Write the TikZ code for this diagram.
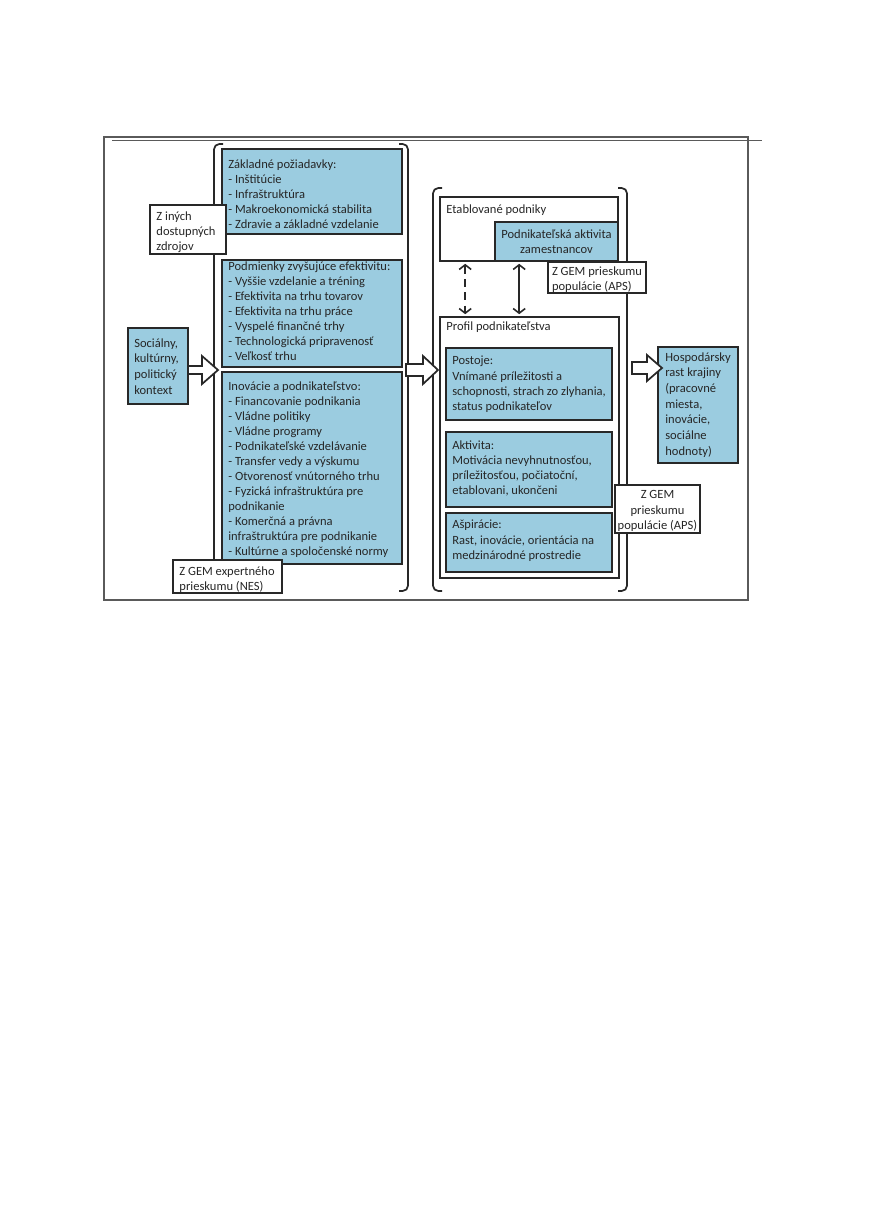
\documentclass[tikz,border=0pt]{standalone}
\usepackage{fontspec}
\setmainfont{Carlito}
\usetikzlibrary{fit,calc,arrows.meta}
\definecolor{boxblue}{RGB}{155,204,224}
\definecolor{edge}{RGB}{40,40,40}
\definecolor{frame}{RGB}{90,90,90}
\newcommand\bodyfont{\fontsize{9.4}{11.3}\selectfont}
\newcommand\loosefont{\fontsize{9.4}{11.75}\selectfont}
\tikzset{
  bluebox/.style={draw=edge, line width=1.4pt, fill=boxblue, inner sep=0pt},
  whitebox/.style={draw=edge, line width=1.2pt, fill=white, inner sep=0pt},
  txt/.style={anchor=north west, inner sep=0pt, align=left, font=\bodyfont, text=black!85},
  ctxt/.style={inner sep=0pt, align=center, font=\bodyfont, text=black!85},
  brk/.style={draw=edge, line width=1.3pt, rounded corners=4},
  harrow/.style={draw=edge, line width=1.3pt, fill=white, line join=miter},
  dbl/.style={draw=edge, line width=1.2pt, {Straight Barb[length=3.5pt,width=9pt]}-{Straight Barb[length=3.5pt,width=9pt]}}
}
\begin{document}
\begin{tikzpicture}[x=0.75pt,y=-0.75pt]
\useasboundingbox (0,0) rectangle (871,1231);
% outer frame
\draw[frame, line width=0.8pt] (104,137) rectangle (748,600);
\draw[frame, line width=0.8pt] (112,140.5) -- (762,140.5);
% brackets
\draw[brk] (223,144) -- (214,144) -- (214,591) -- (223,591);
\draw[brk] (399,144) -- (408,144) -- (408,591) -- (399,591);
\draw[brk] (442,188) -- (433,188) -- (433,591) -- (442,591);
\draw[brk] (618,188) -- (627,188) -- (627,591) -- (618,591);
% left column boxes
\node[bluebox, fit={(222,149)(402,234)}] (b1) {};
\node[txt] (t1) at ($(b1.north west)+(7,11)$) {Základné požiadavky:\\- Inštitúcie\\- Infraštruktúra\\- Makroekonomická stabilita\\- Zdravie a základné vzdelanie};
\node[bluebox, fit={(222,260)(402,367)}] (b2) {};
\node[txt] (t2) at ($(b2.north west)+(7,2)$) {Podmienky zvyšujúce efektivitu:\\- Vyššie vzdelanie a tréning\\- Efektivita na trhu tovarov\\- Efektivita na trhu práce\\- Vyspelé finančné trhy\\- Technologická pripravenosť\\- Veľkosť trhu};
\node[bluebox, fit={(222,372)(402,564)}] (b3) {};
\node[txt] (t3) at ($(b3.north west)+(7,10)$) {Inovácie a podnikateľstvo:\\- Financovanie podnikania\\- Vládne politiky\\- Vládne programy\\- Podnikateľské vzdelávanie\\- Transfer vedy a výskumu\\- Otvorenosť vnútorného trhu\\- Fyzická infraštruktúra pre\\podnikanie\\- Komerčná a právna\\infraštruktúra pre podnikanie\\- Kultúrne a spoločenské normy};
\node[whitebox, fit={(150,205)(226,254)}] (ziny) {};
\node[txt] (tziny) at ($(ziny.north west)+(7,7)$) {Z iných\\dostupných\\zdrojov};
\node[whitebox, fit={(173,560)(282,593)}] (nes) {};
\node[txt] (tnes) at ($(nes.north west)+(7,7)$) {Z GEM expertného\\prieskumu (NES)};
\node[bluebox, fit={(128,328)(188,404)}] (soc) {};
\node[txt, font=\loosefont] (tsoc) at ($(soc.north west)+(7,11)$) {Sociálny,\\kultúrny,\\politický\\kontext};
% right column
\node[whitebox, fit={(440,197)(618,261)}] (etab) {};
\node[txt] (tetab) at ($(etab.north west)+(7,8)$) {Etablované podniky};
\node[bluebox, fit={(495,222)(618,261)}] (paz) {};
\node[ctxt] (tpaz) at (paz.center) {Podnikateľská aktivita\\zamestnancov};
\node[whitebox, fit={(548,262)(646,293)}] (aps1) {};
\node[ctxt, align=left] (taps1) at ($(aps1.center)+(0,2)$) {Z GEM prieskumu\\populácie (APS)};
\node[whitebox, fit={(440,317)(619,578)}] (prof) {};
\node[txt] (tprof) at ($(prof.north west)+(7,5)$) {Profil podnikateľstva};
\node[bluebox, fit={(446,348)(612,420)}] (pos) {};
\node[txt] (tpos) at ($(pos.north west)+(7,9)$) {Postoje:\\Vnímané príležitosti a\\schopnosti, strach zo zlyhania,\\status podnikateľov};
\node[bluebox, fit={(446,432)(612,507)}] (akt) {};
\node[txt] (takt) at ($(akt.north west)+(7,9)$) {Aktivita:\\Motivácia nevyhnutnosťou,\\príležitosťou, počiatoční,\\etablovani, ukončeni};
\node[bluebox, fit={(446,513)(612,572)}] (asp) {};
\node[txt] (tasp) at ($(asp.north west)+(7,8)$) {Ašpirácie:\\Rast, inovácie, orientácia na\\medzinárodné prostredie};
\node[whitebox, fit={(615,485)(700,533)}] (aps2) {};
\node[ctxt] (taps2) at ($(aps2.center)+(0,2)$) {Z GEM\\prieskumu\\populácie (APS)};
\node[bluebox, fit={(658,347)(738,463)}] (hosp) {};
\node[txt, font=\loosefont] (thosp) at ($(hosp.north west)+(8,6)$) {Hospodársky\\rast krajiny\\(pracovné\\miesta,\\inovácie,\\sociálne\\hodnoty)};
% double arrows
\draw[dbl, dash pattern=on 6pt off 4pt] ($(etab.south west)+(26,2)$) -- ($(prof.north west)+(26,-2)$);
\draw[dbl] ($(etab.south west)+(80,2)$) -- ($(prof.north west)+(80,-2)$);
% hollow block arrows
\draw[harrow] (188,366) -- (202,366) -- (202,356) -- (218,370) -- (202,384) -- (202,374) -- (188,374) -- cycle;
\draw[harrow] (406,364) -- (423,364) -- (423,356) -- (438,370) -- (423,384) -- (423,376) -- (406,376) -- cycle;
\draw[harrow] (632,362) -- (647,362) -- (647,355) -- (662,368) -- (647,381) -- (647,374) -- (632,374) -- cycle;
\end{tikzpicture}
\end{document}
